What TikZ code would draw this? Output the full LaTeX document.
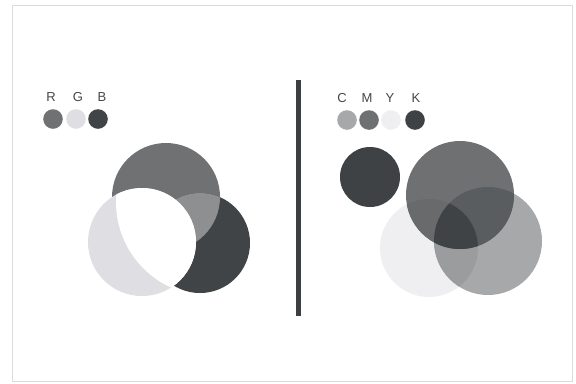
\documentclass[tikz,border=0pt]{standalone}
\usepackage{fontspec}
\setmainfont{Liberation Sans}
\definecolor{borderc}{HTML}{DCDCDC}
\definecolor{gR}{HTML}{6F7173}
\definecolor{gG}{HTML}{DEDEE3}
\definecolor{gB}{HTML}{404446}
\definecolor{gRB}{HTML}{8D8F91}
\definecolor{gC}{HTML}{A6A8AA}
\definecolor{gM}{HTML}{6E7072}
\definecolor{gY}{HTML}{EFEFF2}
\definecolor{gK}{HTML}{3E4244}
\definecolor{gMC}{HTML}{5A5D60}
\definecolor{gMY}{HTML}{686A6C}
\definecolor{gCY}{HTML}{9A9C9E}
\definecolor{gMCY}{HTML}{3F4346}
\definecolor{barc}{HTML}{3B3F41}
\tikzset{
  lbl/.style={font=\fontsize{13bp}{15bp}\selectfont, text=black!72, inner sep=0pt, anchor=center}
}
\begin{document}
\begin{tikzpicture}[x=1bp,y=-1bp]
\useasboundingbox (0,0) rectangle (576,383);
\fill[white] (0,0) rectangle (576,383);
\draw[borderc, line width=0.8bp] (12,5) rectangle (572,381);
% divider
\draw[barc, line width=5bp] (298,80) -- (298,316);
% RGB legend
\node[lbl] (lR) at (51,97) {R};
\node[lbl] (lG) at (78,97) {G};
\node[lbl] (lB) at (102,97) {B};
\fill[gR] (53,119) circle (9.8bp);
\fill[gG] (76,119) circle (9.8bp);
\fill[gB] (98,119) circle (9.8bp);
% CMYK legend
\node[lbl] (lC) at (342,98) {C};
\node[lbl] (lM) at (367,98) {M};
\node[lbl] (lY) at (390,98) {Y};
\node[lbl] (lK) at (416,98) {K};
\fill[gC] (347,120) circle (9.8bp);
\fill[gM] (369,120) circle (9.8bp);
\fill[gY] (391,120) circle (9.8bp);
\fill[gK] (415,120) circle (9.8bp);
% RGB venn
\fill[gR] (166,197) circle (54bp);
\fill[gB] (200,243) circle (50bp);
\begin{scope}
  \clip (166,197) circle (54bp);
  \fill[gRB] (200,243) circle (50bp);
\end{scope}
\fill[gG] (142,242) circle (54bp);
\begin{scope}
  \clip (142,242) circle (54bp);
  \fill[white] (210,202) circle (94bp);
\end{scope}
% CMYK venn
\fill[gK] (370,177) circle (30bp);
\fill[gY] (429,248) circle (49bp);
\fill[gC] (488,241) circle (54bp);
\fill[gM] (460,195) circle (54bp);
\begin{scope}
  \clip (488,241) circle (54bp);
  \fill[gCY] (429,248) circle (49bp);
\end{scope}
\begin{scope}
  \clip (460,195) circle (54bp);
  \fill[gMY] (429,248) circle (49bp);
  \fill[gMC] (488,241) circle (54bp);
  \clip (488,241) circle (54bp);
  \fill[gMCY] (429,248) circle (49bp);
\end{scope}
\end{tikzpicture}
\end{document}
